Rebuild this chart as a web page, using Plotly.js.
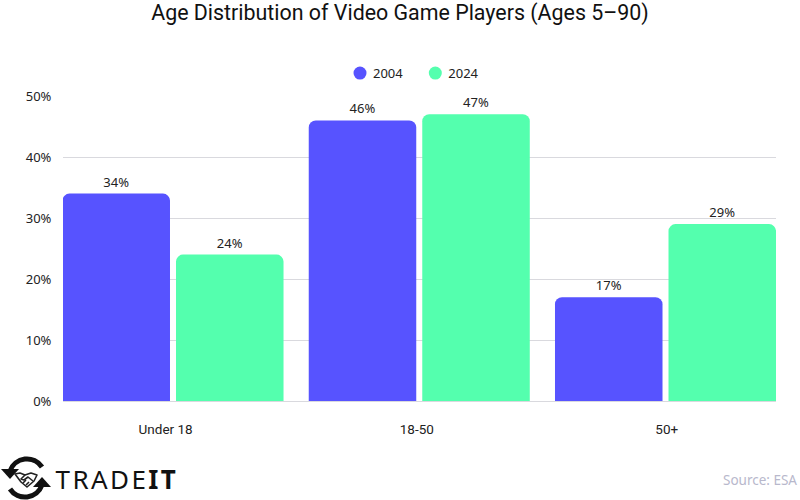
<!DOCTYPE html>
<html>
<head>
<meta charset="utf-8">
<script src="https://cdn.plot.ly/plotly-3.0.1.min.js"></script>
<style>
html,body{margin:0;padding:0;background:#fff}
#c{width:800px;height:500px}
</style>
</head>
<body>
<div id="c"></div>
<script>
const categories = ["Under 18", "18-50", "50+"];
const values2004 = [34, 46, 17];
const values2024 = [24, 47, 29];
const seriesNames = ["2004", "2024"];
const seriesColors = ["#5753FF", "#54FFAE"];
const yTicks = [0, 10, 20, 30, 40, 50];
const titleText = "Age Distribution of Video Game Players (Ages 5–90)";
const sourceText = "Source: ESA";
const brandLight = "TRADE";
const brandBold = "IT";

const FONT = "Noto Sans, sans-serif";
const NARROW = "Roboto, sans-serif";
const W = 800, H = 500;
const plotL = 63, plotR = 776, plotT = 96, plotB = 401;
const paperX = v => (v - plotL) / (plotR - plotL);
const paperY = v => (plotB - v) / (plotB - plotT);

function barTrace(name, vals, color) {
  return {
    type: "bar", name, x: categories, y: vals,
    marker: { color, cornerradius: 7, line: { width: 0 } },
    text: vals.map(v => v + "%"), textposition: "outside", cliponaxis: false,
    textfont: { family: FONT, size: 13, color: "#222" },
    hoverinfo: "x+y", showlegend: false
  };
}
function legendTrace(name, color) {
  return {
    type: "scatter", mode: "markers", name, x: [categories[0]], y: [null],
    marker: { color, size: 13, symbol: "circle" }, showlegend: true
  };
}
const data = [
  barTrace(seriesNames[0], values2004, seriesColors[0]),
  barTrace(seriesNames[1], values2024, seriesColors[1]),
  legendTrace(seriesNames[0], seriesColors[0]),
  legendTrace(seriesNames[1], seriesColors[1])
];

// Brand emblem (two circular arrows around a handshake), 56x44 box
const emblem = `<svg xmlns="http://www.w3.org/2000/svg" width="56" height="44" viewBox="0 0 56 44">
<g fill="none" stroke="#111" stroke-width="5">
<path d="M10 15 A18 18 0 0 1 42 11"/>
<path d="M42 29 A18 18 0 0 1 10 33"/>
</g>
<g fill="#111">
<polygon points="1,13 19,13 10,23"/>
<polygon points="51,31 33,31 42,21"/>
</g>
<g fill="none" stroke="#222" stroke-width="1.6" stroke-linejoin="round">
<path d="M15 18 L20 17 L25 19 L31 17 L37 19 L34 25 L27 31 L21 26 Z"/>
<path d="M25 19 L21 23 L24 24 L28 21 L33 25"/>
<path d="M23 27 L26 24 M26 29 L29 26"/>
</g>
</svg>`;

const layout = {
  width: W, height: H,
  margin: { l: plotL, r: W - plotR, t: plotT, b: H - plotB },
  paper_bgcolor: "#fff", plot_bgcolor: "#fff",
  font: { family: FONT, size: 13, color: "#222" },
  title: { text: titleText, x: 0.5, xanchor: "center", y: 0.974, yanchor: "middle",
           font: { family: NARROW, size: 21.4, color: "#111" } },
  barmode: "group", bargap: 0.078, bargroupgap: 0.053,
  xaxis: { type: "category", range: [-0.4467, 2.4487], showgrid: false, zeroline: false,
           showline: false, ticks: "outside", ticklen: 16, tickcolor: "rgba(0,0,0,0)",
           tickmode: "array", tickvals: [-0.03, 0.99, 2.005], ticktext: categories,
           tickfont: { family: NARROW, size: 13.5, color: "#222" }, automargin: false },
  yaxis: { range: [0, 50], tickvals: yTicks, ticktext: yTicks.map(v => v + "%"),
           showgrid: true, gridcolor: "#d9d9de", gridwidth: 1, zeroline: true, zerolinecolor: "#d9d9de",
           showline: false, ticks: "outside", ticklen: 8, tickcolor: "rgba(0,0,0,0)",
           tickfont: { family: FONT, size: 13, color: "#222" }, automargin: false },
  legend: { orientation: "h", x: 0.5 - 4 / 713, xref: "paper", xanchor: "center", y: 1.075, yanchor: "middle",
            font: { family: FONT, size: 13, color: "#222" }, itemwidth: 30, bgcolor: "rgba(0,0,0,0)" },
  images: [{ source: "data:image/svg+xml;utf8," + encodeURIComponent(emblem),
             xref: "paper", yref: "paper", x: paperX(0), y: paperY(456), sizex: 56 / 713, sizey: 44 / 305,
             xanchor: "left", yanchor: "top", sizing: "stretch", layer: "above" }],
  annotations: [
    { xref: "paper", yref: "paper", x: paperX(799), y: paperY(480), xanchor: "right", yanchor: "middle",
      showarrow: false, text: sourceText, font: { family: FONT, size: 13.5, color: "#b8b8cc" } },
    { xref: "paper", yref: "paper", x: paperX(62), y: paperY(479), xanchor: "left", yanchor: "middle",
      showarrow: false, text: brandLight + "<b>" + brandBold + "</b>", font: { family: FONT, size: 26, color: "#111" } }
  ]
};
Plotly.newPlot("c", data, layout, { displayModeBar: false, responsive: false }).then(() => {
  // tighten the legend's marker-to-label gap and widen the brand's letter spacing
  document.querySelectorAll("#c .legendtext").forEach(t => {
    t.setAttribute("x", 33);
  });
  document.querySelectorAll("#c .annotation-text").forEach(t => {
    if (t.textContent.indexOf(brandLight) === 0) t.style.letterSpacing = "2.4px";
  });
});
</script>
</body>
</html>
